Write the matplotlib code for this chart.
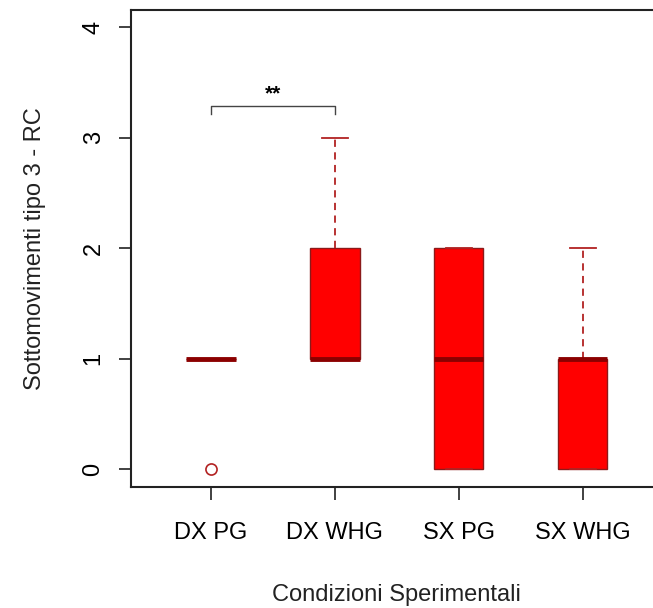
import matplotlib
matplotlib.use("Agg")
from matplotlib import pyplot as plt

plt.rcParams['font.family'] = ['Liberation Sans', 'DejaVu Sans']

# conditions and box statistics (counts of sub-movements)
conditions = ['DX PG', 'DX WHG', 'SX PG', 'SX WHG']
q1 = [1, 1, 0, 0]
medians = [1, 1, 1, 1]
q3 = [1, 2, 2, 1]
whisk_lo = [1, 1, 0, 0]
whisk_hi = [1, 3, 2, 2]
outliers = [[0], [], [], []]

# significance bracket between DX PG and DX WHG
sig_pair = (1, 2)
sig_y = 3.29
sig_label = '**'

stats = []
for i, name in enumerate(conditions):
    stats.append(dict(label=name, q1=q1[i], med=medians[i], q3=q3[i],
                      whislo=whisk_lo[i], whishi=whisk_hi[i], fliers=outliers[i]))

fig = plt.figure(figsize=(6.53, 6.08), dpi=100)
ax = fig.add_axes([0.2006, 0.199, 0.814, 0.785])

positions = range(1, len(conditions) + 1)
ax.bxp(stats, positions=positions, widths=0.4, capwidths=0.21, patch_artist=True,
       boxprops=dict(facecolor='#ff0000', edgecolor='#8b1a1a', linewidth=1.0),
       medianprops=dict(color='#8b0000', linewidth=3.5, solid_capstyle='butt'),
       whiskerprops=dict(color='#b22222', linestyle=(0, (4, 3)), linewidth=1.3),
       capprops=dict(color='#b22222', linewidth=1.3),
       flierprops=dict(marker='o', markerfacecolor='none', markeredgecolor='#b22222',
                       markersize=8, markeredgewidth=1.2))

ax.set_xlim(0.355, 4.645)
ax.set_ylim(-0.16, 4.16)
ax.set_yticks([0, 1, 2, 3, 4])
ax.set_yticklabels(['0', '1', '2', '3', '4'], rotation=90, va='center')
ax.set_xticks(list(positions))
ax.set_xticklabels(conditions)
ax.tick_params(axis='both', labelsize=17, length=9, width=1.3, color='#333333', pad=10)
ax.tick_params(axis='x', pad=16)
for sp in ax.spines.values():
    sp.set_linewidth(1.5)
    sp.set_color('#222222')

ax.set_ylabel('Sottomovimenti tipo 3 - RC', fontsize=17, labelpad=26, color='#222222')
ax.set_xlabel('Condizioni Sperimentali', fontsize=17, labelpad=29, color='#222222')

x0, x1 = sig_pair
ax.plot([x0, x0, x1, x1], [sig_y - 0.07, sig_y, sig_y, sig_y - 0.07],
        color='#444444', linewidth=1.0)
ax.text((x0 + x1) / 2, sig_y + 0.02, sig_label, ha='center', va='bottom',
        fontsize=15, fontweight='bold', color='black')

fig.savefig('out.png', dpi=100)
